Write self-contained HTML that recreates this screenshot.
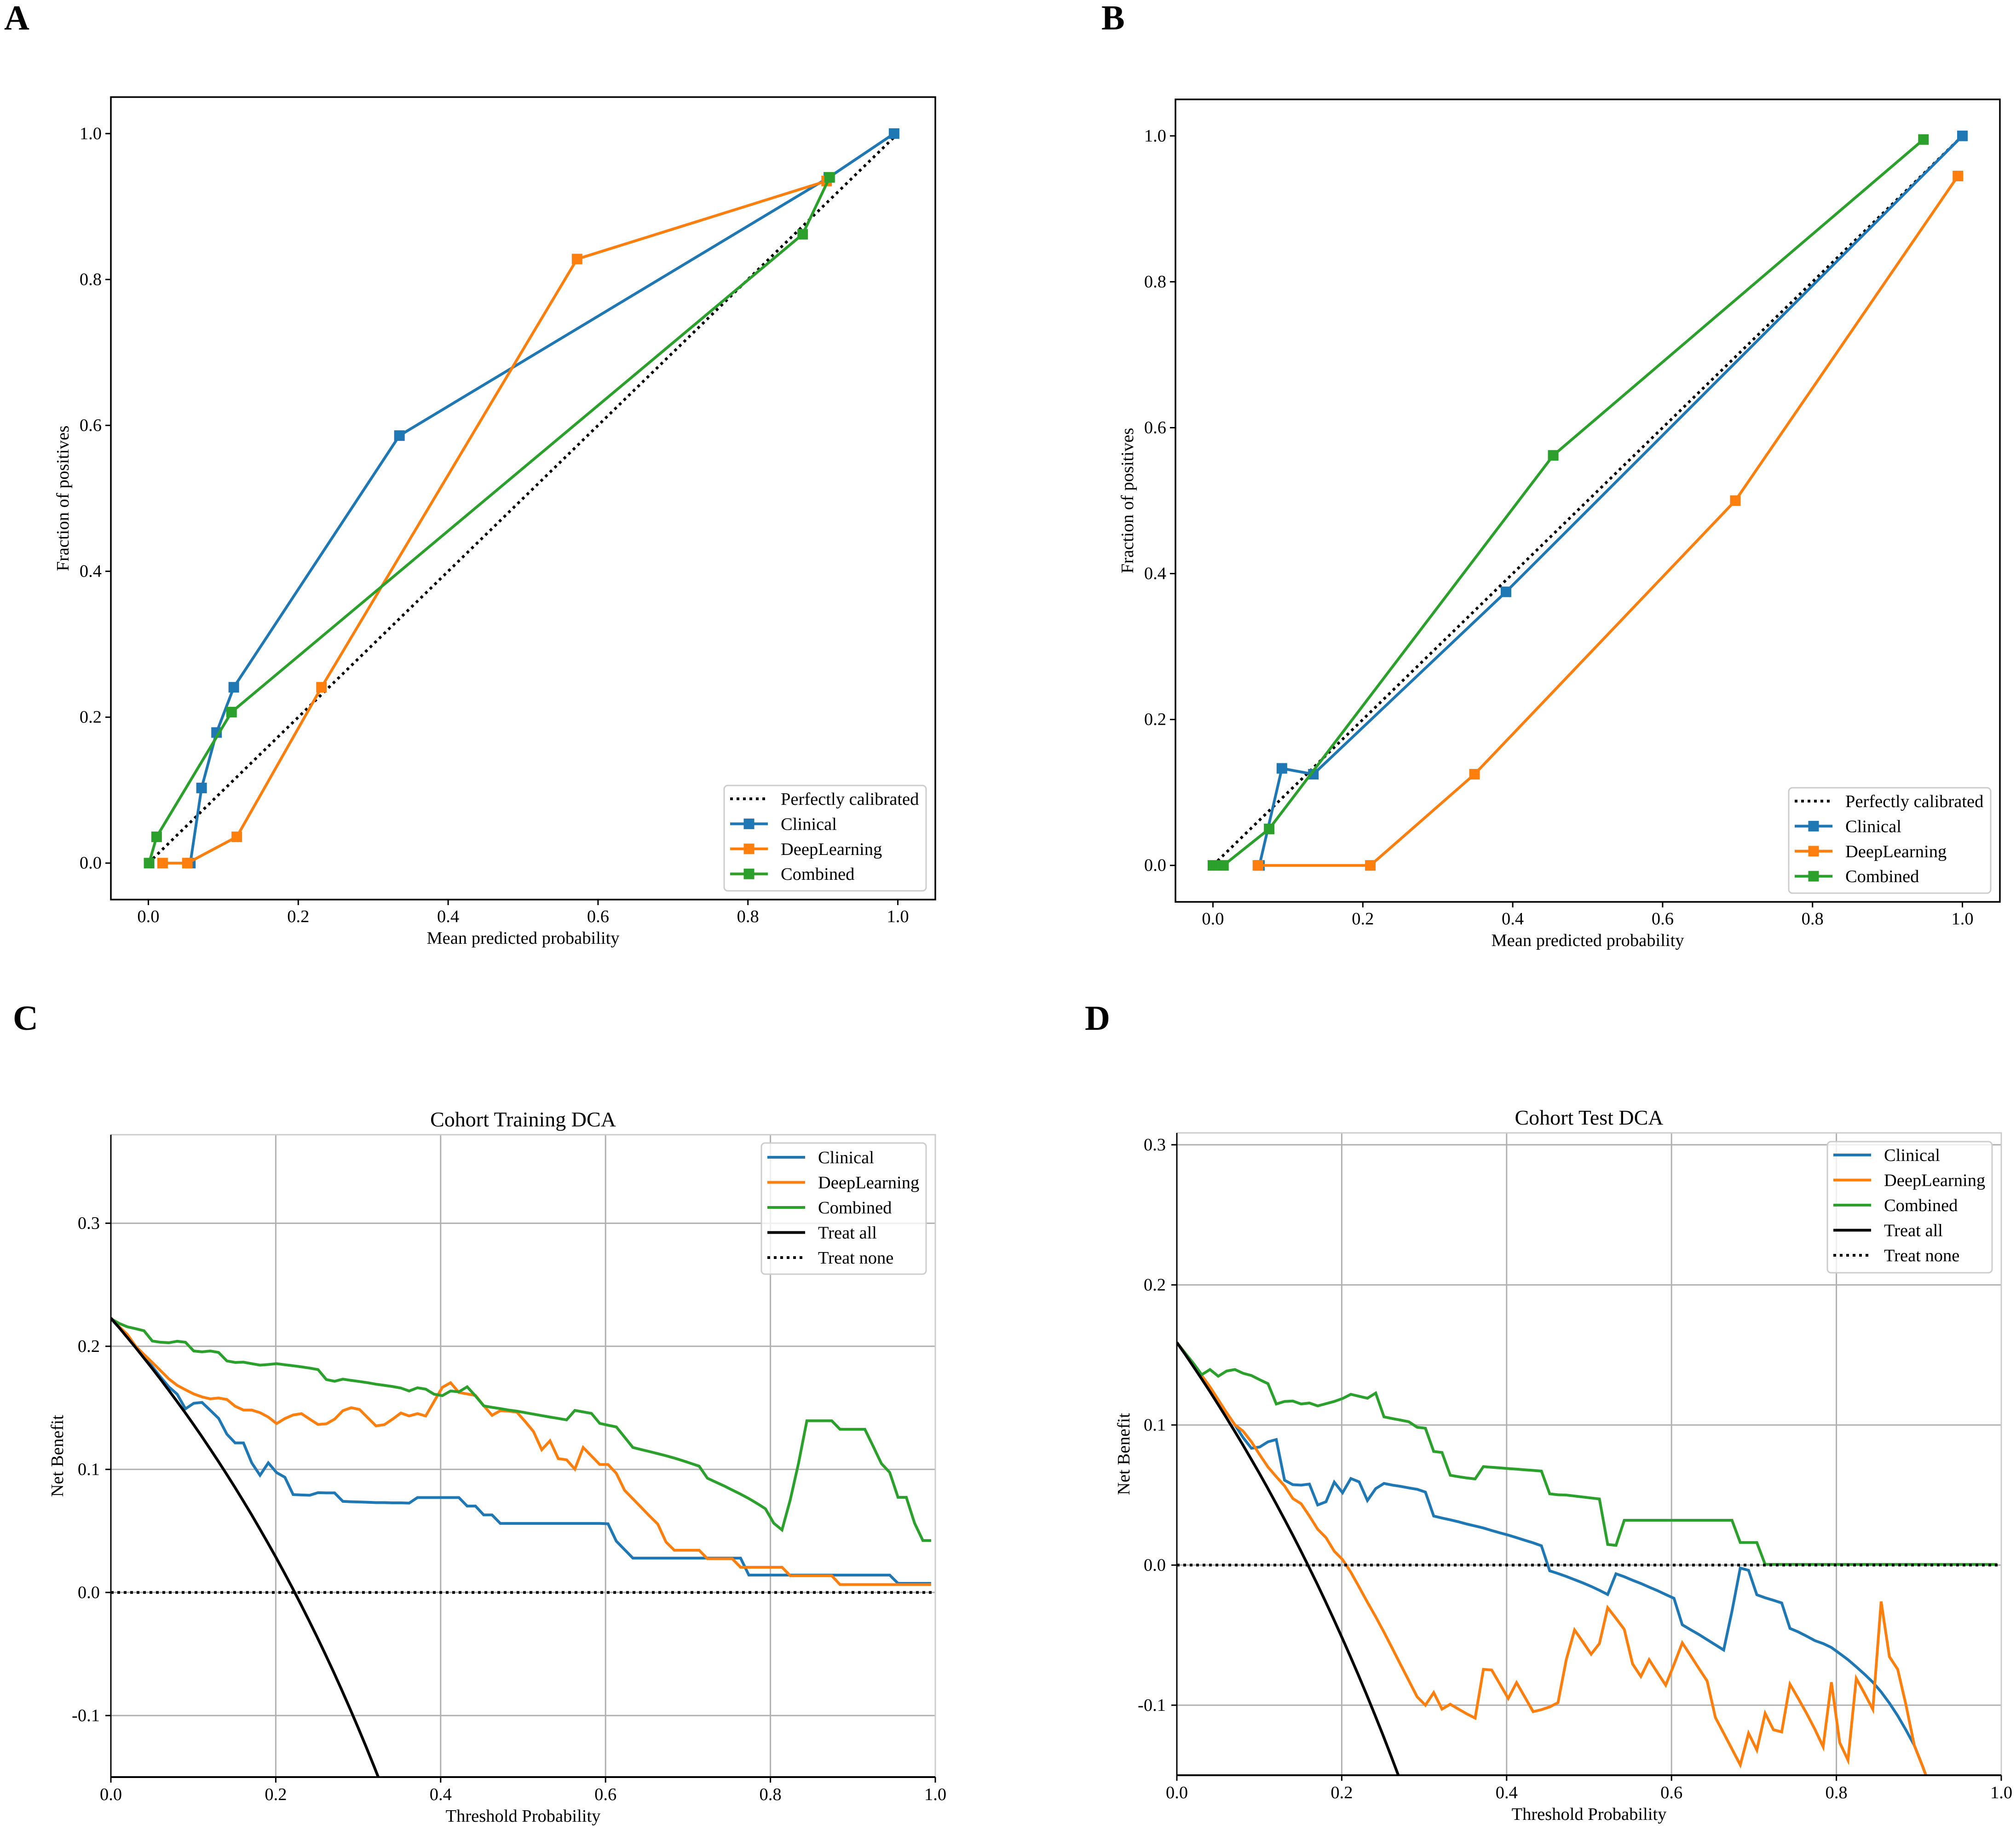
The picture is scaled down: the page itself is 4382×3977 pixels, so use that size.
<!DOCTYPE html>
<html lang="en">
<head>
<meta charset="utf-8">
<title>Calibration and decision curves</title>
<style>
html,body{margin:0;padding:0;background:#fff;}
#figure{display:block;position:absolute;left:0;top:0;}
text{font-family:"Liberation Serif","Times New Roman",serif;fill:#000;}
</style>
</head>
<body>
<svg id="figure" xmlns="http://www.w3.org/2000/svg" width="4382" height="3977" viewBox="0 0 4382 3977">
<rect x="0" y="0" width="4382" height="3977" fill="#fff"></rect>
</svg>
<script>
// Shared tick labels
const calibrationTicks = [0.0, 0.2, 0.4, 0.6, 0.8, 1.0];
const dcaXTicks = [0.0, 0.2, 0.4, 0.6, 0.8, 1.0];
const dcaYTicks = [-0.1, 0.0, 0.1, 0.2, 0.3];

// Panel A, training calibration
const aClinicalX = [0.056, 0.071, 0.091, 0.114, 0.335, 0.908, 0.995];
const aClinicalY = [0, 0.103, 0.179, 0.241, 0.586, 0.94, 1.0];
const aDeepX = [0.019, 0.052, 0.118, 0.231, 0.572, 0.905];
const aDeepY = [0, 0, 0.036, 0.241, 0.828, 0.935];
const aCombinedX = [0.001, 0.011, 0.111, 0.873, 0.909];
const aCombinedY = [0, 0.036, 0.207, 0.862, 0.94];

// Panel B, test calibration
const bClinicalX = [0.062, 0.092, 0.134, 0.391, 1.0];
const bClinicalY = [0, 0.133, 0.125, 0.375, 1.0];
const bDeepX = [0.06, 0.21, 0.349, 0.697, 0.994];
const bDeepY = [0, 0, 0.125, 0.5, 0.945];
const bCombinedX = [0, 0.014, 0.075, 0.454, 0.948];
const bCombinedY = [0, 0, 0.05, 0.562, 0.995];

// Perfect calibration reference
const perfectX = [0, 1];
const perfectY = [0, 1];

// Panel C, one value per threshold step starting at 0
const cClinical = [.2224,.2152,.2075,.1995,.1915,.1835,.1750,.1670,.1611,.1492,.1537,.1544,.1480,.1415,.1286,.1215,.1215,.1053,.0952,.1053,
.0974,.0936,.0795,.0792,.0790,.0811,.0809,.0809,.0740,.0737,.0735,.0733,.0730,.0730,.0728,.0728,.0726,.0771,.0771,.0771,
.0771,.0771,.0771,.0702,.0702,.0630,.0630,.0561,.0561,.0561,.0561,.0561,.0561,.0561,.0561,.0561,.0561,.0561,.0561,.0561,
.0558,.0417,.0348,.0279,.0279,.0279,.0279,.0279,.0279,.0279,.0279,.0279,.0279,.0279,.0279,.0279,.0279,.0141,.0141,.0141,
.0141,.0141,.0141,.0141,.0141,.0141,.0141,.0141,.0141,.0141,.0141,.0141,.0141,.0141,.0141,.0074,.0074,.0074,.0074,.0074];
const cDeep = [.2224,.2160,.2095,.2000,.1933,.1869,.1802,.1735,.1683,.1647,.1613,.1589,.1573,.1580,.1568,.1513,.1482,.1482,.1461,.1425,
.1372,.1413,.1442,.1453,.1408,.1365,.1370,.1408,.1477,.1501,.1487,.1420,.1353,.1363,.1408,.1458,.1434,.1453,.1434,.1551,
.1666,.1704,.1625,.1613,.1601,.1518,.1439,.1477,.1473,.1465,.1389,.1308,.1160,.1232,.1087,.1078,.1002,.1178,.1109,.1040,
.1040,.0968,.0830,.0761,.0692,.0622,.0556,.0410,.0343,.0343,.0343,.0343,.0274,.0274,.0274,.0274,.0205,.0205,.0205,.0205,
.0205,.0205,.0136,.0136,.0136,.0136,.0136,.0136,.0064,.0064,.0064,.0064,.0064,.0064,.0064,.0064,.0064,.0064,.0064,.0064];
const cCombined = [.2224,.2186,.2158,.2143,.2126,.2043,.2033,.2029,.2041,.2033,.1962,.1955,.1962,.1950,.1881,.1869,.1871,.1859,.1847,.1852,
.1859,.1850,.1842,.1833,.1823,.1811,.1730,.1716,.1733,.1723,.1714,.1704,.1692,.1683,.1673,.1661,.1637,.1663,.1652,.1611,
.1599,.1637,.1630,.1671,.1597,.1516,.1504,.1494,.1482,.1473,.1461,.1449,.1437,.1425,.1414,.1402,.1479,.1467,.1455,.1374,
.1359,.1345,.1262,.1178,.1161,.1145,.1128,.1111,.1092,.1071,.1049,.1026,.0928,.0897,.0866,.0832,.0799,.0763,.0723,.0680,
.0563,.0508,.0754,.1052,.1395,.1395,.1395,.1395,.1326,.1326,.1326,.1326,.1188,.1047,.0975,.0773,.0773,.0563,.0422,.0422];
const cTreatAll = [.2230,.2152,.2071,.1990,.1906,.1821,.1734,.1645,.1554,.1462,.1367,.1270,.1170,.1069,.0965,.0859,.0750,.0639,.0524,.0407,
.0288,.0165,.0039,-.0091,-.0224,-.0360,-.0500,-.0644,-.0792,-.0944,-.1100,-.1261,-.1426,-.1597];
const cTreatNone = [0, 0];

// Panel D, one value per threshold step starting at 0
const dClinical = [.1588,.1505,.1420,.1341,.1256,.1168,.1088,.1002,.0910,.0834,.0843,.0880,.0896,.0606,.0574,.0571,.0578,.0429,.0452,.0592,
.0516,.0618,.0594,.0461,.0546,.0583,.0571,.0562,.0551,.0541,.0521,.0350,.0336,.0323,.0309,.0293,.0279,.0265,.0247,.0230,
.0214,.0196,.0177,.0159,.0138,-.0041,-.0060,-.0081,-.0104,-.0127,-.0152,-.0180,-.0210,-.0062,-.0083,-.0108,-.0131,-.0157,-.0182,-.0210,
-.0237,-.0426,-.0461,-.0495,-.0532,-.0569,-.0606,-.0329,-.0021,-.0037,-.0212,-.0233,-.0251,-.0270,-.0452,-.0477,-.0507,-.0539,-.0560,-.0588,
-.0631,-.0675,-.0726,-.0779,-.0836,-.0905,-.0985,-.1075,-.1177,-.1286,-.1435,-.1597];
const dDeep = [.1588,.1514,.1430,.1353,.1272,.1180,.1088,.1002,.0956,.0880,.0788,.0700,.0631,.0565,.0475,.0438,.0350,.0256,.0196,.0099,
.0039,-.0051,-.0157,-.0265,-.0369,-.0479,-.0594,-.0710,-.0825,-.0940,-.1000,-.0910,-.1028,-.0993,-.1028,-.1062,-.1092,-.0744,-.0749,-.0850,
-.0952,-.0839,-.0942,-.1046,-.1032,-.1012,-.0982,-.0675,-.0463,-.0548,-.0636,-.0560,-.0304,-.0380,-.0459,-.0705,-.0795,-.0675,-.0767,-.0857,
-.0710,-.0555,-.0645,-.0737,-.0827,-.1088,-.1200,-.1313,-.1426,-.1200,-.1320,-.1058,-.1175,-.1191,-.0850,-.0952,-.1058,-.1171,-.1297,-.0836,
-.1267,-.1392,-.0809,-.0917,-.1030,-.0260,-.0654,-.0744,-.0998,-.1286,-.1435,-.1597];
const dCombined = [.1588,.1514,.1440,.1359,.1396,.1348,.1385,.1396,.1369,.1353,.1323,.1295,.1150,.1168,.1171,.1150,.1157,.1136,.1152,.1168,
.1189,.1219,.1205,.1191,.1228,.1058,.1046,.1035,.1023,.0984,.0977,.0811,.0804,.0641,.0631,.0622,.0615,.0703,.0698,.0694,
.0689,.0685,.0680,.0676,.0671,.0509,.0502,.0500,.0493,.0486,.0479,.0472,.0147,.0141,.0320,.0320,.0320,.0320,.0320,.0320,
.0320,.0320,.0320,.0320,.0320,.0320,.0320,.0320,.0161,.0161,.0161,.0005,.0005,.0005,.0005,.0005,.0005,.0005,.0005,.0005,
.0005,.0005,.0005,.0005,.0005,.0005,.0005,.0005,.0005,.0005,.0005,.0005,.0005,.0005,.0005,.0005,.0005,.0005,.0005,.0005];
const dTreatAll = [.1590,.1505,.1418,.1330,.1240,.1147,.1053,.0957,.0859,.0758,.0656,.0551,.0443,.0333,.0221,.0106,-.0012,-.0132,-.0256,-.0383,
-.0513,-.0646,-.0782,-.0922,-.1066,-.1213,-.1365,-.1521];
const dTreatNone = [0, 0];

const BLUE = '#1f77b4', ORANGE = '#ff7f0e', GREEN = '#2ca02c';
const LABEL_SIZE = 38.5;
const svg = document.getElementById('figure');
const NS = 'http://www.w3.org/2000/svg';

function make(tag, parent, attrs, txt) {
  const e = document.createElementNS(NS, tag);
  for (const k in attrs) e.setAttribute(k, attrs[k]);
  if (txt !== undefined) e.textContent = txt;
  parent.appendChild(e);
  return e;
}
function label(parent, x, y, str, size, anchor, extra) {
  return make('text', parent, Object.assign({x: x, y: y, 'font-size': size, 'text-anchor': anchor || 'middle'}, extra || {}), str);
}
function pathFrom(xs, ys, sx, sy) {
  return xs.map((v, i) => (i ? 'L' : 'M') + sx(v).toFixed(2) + ' ' + sy(ys[i]).toFixed(2)).join(' ');
}
function modelThresholds(values) {
  return values.map((_, i) => i * 0.01005);
}
function treatAllThresholds(values) {
  return values.map((_, i) => i / 100);
}

function frame(g, box, xDom, yDom, id) {
  const sx = v => box.l + (v - xDom[0]) / (xDom[1] - xDom[0]) * (box.r - box.l);
  const sy = v => box.b - (v - yDom[0]) / (yDom[1] - yDom[0]) * (box.b - box.t);
  const clip = make('clipPath', g, {id: id});
  make('rect', clip, {x: box.l, y: box.t, width: box.r - box.l, height: box.b - box.t});
  return {sx, sy, clip: 'url(#' + id + ')'};
}

function drawTicks(g, box, scale, xTicks, yTicks, grid, tickX, tickY) {
  xTicks.forEach(v => {
    const px = scale.sx(v);
    if (grid) {
      const gl = make('line', g, {x1: px, x2: px, y1: box.t, y2: box.b, stroke: '#b0b0b0', 'stroke-width': 3});
      
      
    }
    const t = make('line', g, {x1: px, x2: px, y1: box.b, y2: box.b + 12, stroke: '#000', 'stroke-width': 3});
    
    
    const l = label(g, px, tickX, v.toFixed(1), LABEL_SIZE);
    
    
  });
  yTicks.forEach(v => {
    const py = scale.sy(v);
    if (grid) {
      const gl = make('line', g, {x1: box.l, x2: box.r, y1: py, y2: py, stroke: '#b0b0b0', 'stroke-width': 3});
      
      
    }
    const t = make('line', g, {x1: box.l - 12, x2: box.l, y1: py, y2: py, stroke: '#000', 'stroke-width': 3});
    
    
    const l = label(g, tickY, py + 12, v.toFixed(1), LABEL_SIZE, 'end');
    
    
  });
}

function drawLine(g, scale, xs, ys, color, name, dotted, width) {
  const attrs = {d: pathFrom(xs, ys, scale.sx, scale.sy), fill: 'none', stroke: color, 'stroke-width': width || 6, 'stroke-linejoin': 'miter', 'clip-path': scale.clip};
  if (dotted) attrs['stroke-dasharray'] = '6 8';
  const p = make('path', g, attrs);
  
  
}

function drawMarkers(g, scale, xs, ys, color, name) {
  xs.forEach((v, i) => {
    const r = make('rect', g, {x: scale.sx(v) - 11.5, y: scale.sy(ys[i]) - 11.5, width: 23, height: 23, fill: color});
    
    
  });
}

function drawLegend(g, x0, y0, x1, y1, rows, firstRow, step, textX, handle) {
  const box = make('rect', g, {x: x0, y: y0, width: x1 - x0, height: y1 - y0, rx: 8, ry: 8, fill: '#fff', 'fill-opacity': 0.8, stroke: '#cccccc', 'stroke-width': 3});
  
  
  rows.forEach((row, i) => {
    const y = firstRow + i * step;
    const a = {x1: handle[0], x2: handle[1], y1: y, y2: y, stroke: row.color, 'stroke-width': 6};
    if (row.dotted) a['stroke-dasharray'] = '6 8';
    const ln = make('line', g, a);
    
    
    if (row.marker) {
      const m = make('rect', g, {x: (handle[0] + handle[1]) / 2 - 11.5, y: y - 11.5, width: 23, height: 23, fill: row.color});
      
      
    }
    const t = label(g, textX, y + 13, row.text, LABEL_SIZE, 'start');
    
    
  });
}

function calibrationPanel(cfg) {
  const g = make('g', svg, {});
  
  
  const box = cfg.box;
  const scale = frame(g, box, [-0.05, 1.05], [-0.05, 1.05], cfg.name + '-clip');
  drawLine(g, scale, perfectX, perfectY, '#000', 'perfectly-calibrated-line', true);
  cfg.series.forEach(s => {
    drawLine(g, scale, s.x, s.y, s.color, s.label + '-line');
    drawMarkers(g, scale, s.x, s.y, s.color, s.label + '-point');
  });
  const frameRect = make('rect', g, {x: box.l, y: box.t, width: box.r - box.l, height: box.b - box.t, fill: 'none', stroke: '#000', 'stroke-width': 3.5});
  
  
  drawTicks(g, box, scale, calibrationTicks, calibrationTicks, false, box.b + 49, box.l - 20);
  const xl = label(g, (box.l + box.r) / 2, box.b + 96, 'Mean predicted probability', LABEL_SIZE);
  
  
  const yl = label(g, cfg.yLabelX, (box.t + box.b) / 2, 'Fraction of positives', LABEL_SIZE, 'middle', {transform: 'rotate(-90 ' + cfg.yLabelX + ' ' + ((box.t + box.b) / 2) + ')'});
  
  
  const rows = [{text: 'Perfectly calibrated', color: '#000', dotted: true}].concat(cfg.series.map(s => ({text: s.text, color: s.color, marker: true})));
  drawLegend(g, box.r - 459, box.b - 248, box.r - 20, box.b - 19, rows, box.b - 219, 54.4, box.r - 336, [box.r - 446, box.r - 364]);
}

function dcaPanel(cfg) {
  const g = make('g', svg, {});
  
  
  const box = cfg.box;
  const scale = frame(g, box, [0, 1], [-0.15, cfg.yTop], cfg.name + '-clip');
  drawTicks(g, box, scale, dcaXTicks, dcaYTicks, true, box.b + 50, box.l - 24);
  cfg.series.forEach(s => drawLine(g, scale, modelThresholds(s.y), s.y, s.color, s.label + '-line'));
  drawLine(g, scale, treatAllThresholds(cfg.treatAll), cfg.treatAll, '#000', 'treat-all-line');
  drawLine(g, scale, [0, 1], cfg.treatNone, '#000', 'treat-none-line', true);
  const topRight = make('path', g, {d: 'M' + box.l + ' ' + box.t + ' H' + box.r + ' V' + box.b, fill: 'none', stroke: '#cccccc', 'stroke-width': 3});
  
  
  const leftSpine = make('line', g, {x1: box.l, x2: box.l, y1: box.t, y2: box.b, stroke: '#000', 'stroke-width': 3});
  
  
  const bottomSpine = make('line', g, {x1: box.l, x2: box.r, y1: box.b, y2: box.b, stroke: '#000', 'stroke-width': 4});
  
  
  const title = label(g, (box.l + box.r) / 2, cfg.titleY, cfg.title, 46);
  
  
  const xl = label(g, (box.l + box.r) / 2, box.b + 97, 'Threshold Probability', LABEL_SIZE);
  
  
  const cy = (box.t + box.b) / 2;
  const yl = label(g, cfg.yLabelX, cy, 'Net Benefit', LABEL_SIZE, 'middle', {transform: 'rotate(-90 ' + cfg.yLabelX + ' ' + cy + ')'});
  
  
  const rows = cfg.series.map(s => ({text: s.text, color: s.color})).concat([
    {text: 'Treat all', color: '#000'},
    {text: 'Treat none', color: '#000', dotted: true}
  ]);
  drawLegend(g, box.r - 378, cfg.legendTop, box.r - 20, cfg.legendTop + 285, rows, cfg.legendTop + cfg.rowOffset, 54.5, box.r - 255, [box.r - 365, box.r - 283]);
}

calibrationPanel({
  name: 'panel-a-calibration',
  box: {l: 241, r: 2033, t: 211, b: 1955},
  yLabelX: 149,
  series: [
    {label: 'clinical', text: 'Clinical', color: BLUE, x: aClinicalX, y: aClinicalY},
    {label: 'deep-learning', text: 'DeepLearning', color: ORANGE, x: aDeepX, y: aDeepY},
    {label: 'combined', text: 'Combined', color: GREEN, x: aCombinedX, y: aCombinedY}
  ]
});
calibrationPanel({
  name: 'panel-b-calibration',
  box: {l: 2555, r: 4347, t: 216, b: 1960},
  yLabelX: 2463,
  series: [
    {label: 'clinical', text: 'Clinical', color: BLUE, x: bClinicalX, y: bClinicalY},
    {label: 'deep-learning', text: 'DeepLearning', color: ORANGE, x: bDeepX, y: bDeepY},
    {label: 'combined', text: 'Combined', color: GREEN, x: bCombinedX, y: bCombinedY}
  ]
});
dcaPanel({
  name: 'panel-c-dca',
  box: {l: 241, r: 2033, t: 2466, b: 3862},
  yTop: 0.3719,
  title: 'Cohort Training DCA',
  titleY: 2448,
  yLabelX: 137,
  legendTop: 2484,
  rowOffset: 31,
  treatAll: cTreatAll,
  treatNone: cTreatNone,
  series: [
    {label: 'clinical', text: 'Clinical', color: BLUE, y: cClinical},
    {label: 'deep-learning', text: 'DeepLearning', color: ORANGE, y: cDeep},
    {label: 'combined', text: 'Combined', color: GREEN, y: cCombined}
  ]
});
dcaPanel({
  name: 'panel-d-dca',
  box: {l: 2558, r: 4350, t: 2462, b: 3858},
  yTop: 0.3085,
  title: 'Cohort Test DCA',
  titleY: 2444,
  yLabelX: 2455,
  legendTop: 2481,
  rowOffset: 29,
  treatAll: dTreatAll,
  treatNone: dTreatNone,
  series: [
    {label: 'clinical', text: 'Clinical', color: BLUE, y: dClinical},
    {label: 'deep-learning', text: 'DeepLearning', color: ORANGE, y: dDeep},
    {label: 'combined', text: 'Combined', color: GREEN, y: dCombined}
  ]
});

const letterA = label(svg, 9, 64, 'A', 76, 'start', {'font-weight': 'bold'});


const letterB = label(svg, 2394, 64, 'B', 76, 'start', {'font-weight': 'bold'});


const letterC = label(svg, 28, 2238, 'C', 76, 'start', {'font-weight': 'bold'});


const letterD = label(svg, 2358, 2238, 'D', 76, 'start', {'font-weight': 'bold'});


</script>
</body>
</html>
